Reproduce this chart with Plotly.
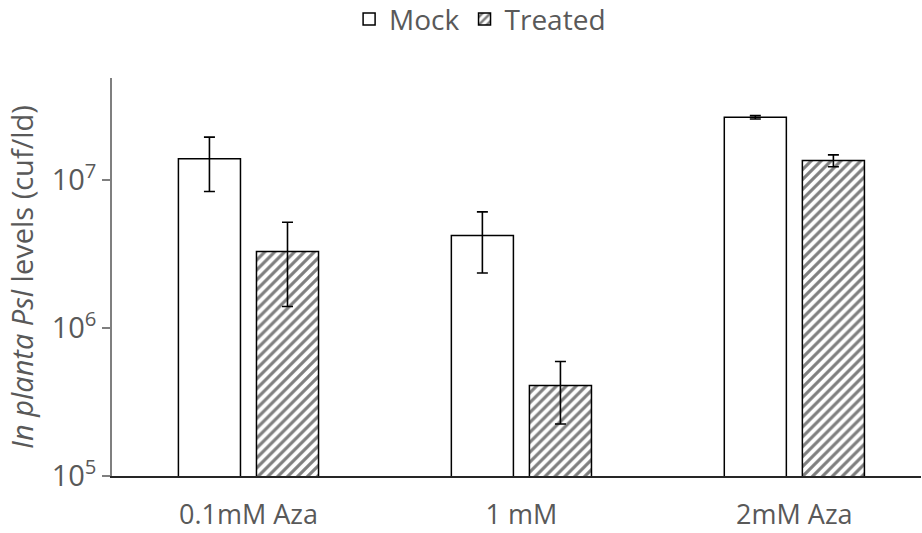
import plotly.graph_objects as go

categories = ["0.1mM Aza", "1 mM", "2mM Aza"]
mock_values = [1.40e7, 4.24e6, 2.67e7]
mock_errors = [5.6e6, 1.88e6, 7.0e5]
treated_values = [3.30e6, 4.10e5, 1.36e7]
treated_errors = [1.9e6, 1.85e5, 1.25e6]
y_tick_values = [1e5, 1e6, 1e7]
y_tick_labels = ["10<sup>5</sup>", "10<sup>6</sup>", "10<sup>7</sup>"]

FONT = "Open Sans"
TEXT = "#595959"

fig = go.Figure()
fig.add_trace(go.Bar(
    name="Mock", x=categories, y=mock_values,
    marker=dict(color="white", line=dict(color="black", width=1.5)),
    error_y=dict(type="data", array=mock_errors, visible=True,
                 color="black", thickness=1.6, width=5.5),
))
fig.add_trace(go.Bar(
    name="Treated", x=categories, y=treated_values,
    marker=dict(color="white", line=dict(color="black", width=1.5),
                pattern=dict(shape="/", fgcolor="black", bgcolor="white",
                             size=7, solidity=0.45)),
    error_y=dict(type="data", array=treated_errors, visible=True,
                 color="black", thickness=1.6, width=5.5),
))

fig.update_layout(
    width=922, height=533,
    margin=dict(l=112, r=1, t=78, b=57, autoexpand=False),
    paper_bgcolor="white", plot_bgcolor="white",
    barmode="group", bargap=0.428, bargroupgap=0.205,
    font=dict(family=FONT, size=27, color=TEXT),
    showlegend=True,
    legend=dict(orientation="h", x=0.455, xanchor="center", y=1.21,
                yanchor="top", font=dict(size=28, color=TEXT),
                bgcolor="rgba(0,0,0,0)"),
    xaxis=dict(range=[-0.5, 2.464], showgrid=False, showline=True,
               linecolor="#262626", linewidth=2, ticks="",
               automargin=False,
               ticklabelstandoff=14, tickfont=dict(size=27, color=TEXT)),
    yaxis=dict(type="log", range=[5, 7.692], showgrid=False, showline=True,
               linecolor="#7f7f7f", linewidth=1.5, ticks="outside",
               ticklen=8, tickwidth=1.5, tickcolor="#7f7f7f",
               automargin=False,
               tickvals=y_tick_values, ticktext=y_tick_labels,
               tickfont=dict(size=29, color=TEXT), zeroline=False,
               title=dict(text="<i>In planta Psl</i> levels (cuf/ld)",
                          font=dict(size=29, color=TEXT), standoff=10)),
)

fig.write_html(
    "out.html",
    config={"displayModeBar": False},
    post_script="document.body.style.margin='0';document.body.style.overflow='hidden';",
)
